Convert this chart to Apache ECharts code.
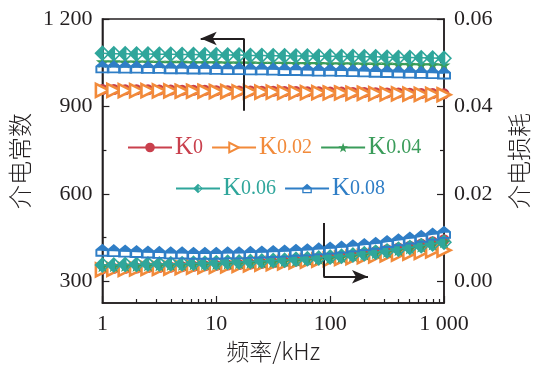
<!DOCTYPE html>
<html><head><meta charset="utf-8">
<script src="https://cdn.jsdelivr.net/npm/echarts@6/dist/echarts.min.js"></script>
<style>html,body{margin:0;padding:0;background:#fff}#c{width:547px;height:368px}</style>
</head><body><div id="c"></div>
<script>
// frequency (kHz)
const freq = [1,1.259,1.585,1.995,2.512,3.162,3.981,5.012,6.310,7.943,10,12.59,15.85,19.95,25.12,31.62,39.81,50.12,63.10,79.43,100,125.9,158.5,199.5,251.2,316.2,398.1,501.2,631.0,794.3,1000];
const names = ['K0','K0.02','K0.04','K0.06','K0.08'];
// dielectric constant
const epsK0   = [958,958,957,957,957,956,956,955,955,955,954,954,953,953,952,952,951,951,950,950,949,949,948,948,947,946,946,945,944,944,943];
const epsK002 = [955,955,954,954,954,953,953,952,952,952,951,951,950,950,949,949,948,948,947,947,946,946,945,945,944,943,943,942,941,941,940];
const epsK004 = [1053,1053,1052,1052,1052,1051,1051,1051,1050,1050,1050,1049,1049,1049,1048,1048,1048,1047,1047,1047,1046,1046,1046,1045,1045,1045,1044,1044,1043,1043,1042];
const epsK006 = [1082,1081,1081,1080,1080,1079,1079,1078,1078,1077,1077,1076,1076,1075,1075,1074,1074,1073,1073,1072,1072,1071,1071,1070,1070,1069,1068,1068,1067,1066,1065];
const epsK008 = [1036,1036,1035,1035,1034,1034,1033,1033,1032,1032,1031,1030,1030,1029,1029,1028,1027,1027,1026,1025,1025,1024,1023,1022,1021,1020,1019,1018,1017,1016,1015];
// dielectric loss
const lossK0   = [0.0028,0.0029,0.0029,0.0030,0.0031,0.0031,0.0032,0.0033,0.0034,0.0035,0.0036,0.0037,0.0038,0.0039,0.0041,0.0042,0.0044,0.0046,0.0048,0.0051,0.0054,0.0057,0.0060,0.0064,0.0068,0.0072,0.0076,0.0080,0.0085,0.0090,0.0095];
const lossK002 = [0.0026,0.0027,0.0027,0.0028,0.0029,0.0029,0.0030,0.0031,0.0032,0.0033,0.0034,0.0035,0.0036,0.0037,0.0039,0.0040,0.0042,0.0044,0.0046,0.0048,0.0050,0.0052,0.0054,0.0056,0.0058,0.0060,0.0062,0.0064,0.0066,0.0069,0.0071];
const lossK004 = [0.0035,0.0035,0.0036,0.0036,0.0037,0.0037,0.0038,0.0038,0.0039,0.0040,0.0040,0.0041,0.0042,0.0043,0.0044,0.0045,0.0047,0.0048,0.0050,0.0052,0.0054,0.0056,0.0059,0.0062,0.0065,0.0068,0.0072,0.0076,0.0080,0.0085,0.0090];
const lossK006 = [0.0037,0.0037,0.0038,0.0038,0.0039,0.0039,0.0040,0.0040,0.0041,0.0041,0.0042,0.0043,0.0044,0.0045,0.0046,0.0047,0.0048,0.0050,0.0051,0.0053,0.0055,0.0057,0.0060,0.0063,0.0066,0.0069,0.0073,0.0077,0.0081,0.0085,0.0089];
const lossK008 = [0.0071,0.0070,0.0069,0.0068,0.0067,0.0066,0.0065,0.0065,0.0064,0.0064,0.0064,0.0065,0.0065,0.0066,0.0067,0.0068,0.0069,0.0071,0.0072,0.0074,0.0076,0.0078,0.0081,0.0084,0.0087,0.0091,0.0095,0.0099,0.0103,0.0108,0.0112];
// ticks
const xMajor = [1,10,100,1000];
const xMinor = [2,3,4,5,6,7,8,9,20,30,40,50,60,70,80,90,200,300,400,500,600,700,800,900];
const yLeftMajor = [300,600,900,1200];
const yLeftMinor = [450,750,1050];
const yRightMajor = [0,0.02,0.04,0.06];
const yRightMinor = [0.01,0.03,0.05];
// annotation arrows (data coordinates)
const arrowLeft = {x: 17.5, yTop: 1133, yBottom: 885, xTip: 7.3};
const arrowRight = {x: 87.5, yTop: 0.0133, yBottom: 0.0010, xTip: 215};

const colors = ['#c9404d','#f28a3a','#3a9c5a','#2fa69b','#2f7ec6'];
const symbols = [
  'circle',
  'path://M0 0 L10 5 L0 10 Z',
  'path://M5 0 L6.18 3.38 L9.76 3.45 L6.90 5.62 L7.94 9.05 L5 7 L2.06 9.05 L3.10 5.62 L0.24 3.45 L3.82 3.38 Z',
  'path://M5 0 L10 5 L5 10 L0 5 Z M5.8 2.2 L5.8 7.8 L8.6 5 Z',
  'path://M5 0 L10 4.5 L10 10 L0 10 L0 4.5 Z M1.4 5.4 L1.4 8.6 L8.6 8.6 L8.6 5.4 Z'
];
const symSizes = [11, [13,13], 13, 16, [14,13]];
const epsAll = [epsK0, epsK002, epsK004, epsK006, epsK008];
const lossAll = [lossK0, lossK002, lossK004, lossK006, lossK008];

const serif = 'Liberation Serif';
const cjk = 'Noto Sans CJK SC';
const ink = '#231f20';

function mkSeries(i, arr, yIdx) {
  const s = {
    name: names[i], type: 'line', xAxisIndex: 0, yAxisIndex: yIdx,
    data: freq.map((f, k) => [f, arr[k]]),
    symbol: symbols[i], symbolSize: symSizes[i], showSymbol: true, showAllSymbol: true,
    lineStyle: {color: colors[i], width: 1.5},
    itemStyle: {color: colors[i], borderColor: colors[i], borderWidth: 0},
    z: 2 + i, animation: false, silent: true
  };
  if (i === 1) {
    s.itemStyle = {color: '#fff', borderColor: colors[i], borderWidth: 2.6};
  }
  return s;
}
const series = [];
for (let i = 0; i < 5; i++) series.push(mkSeries(i, epsAll[i], 0));
for (let i = 0; i < 5; i++) series.push(mkSeries(i, lossAll[i], 1));

const arrowLine = {color: ink, width: 2, type: 'solid'};
series[3].markLine = {
  silent: true, animation: false, symbol: ['none','none'],
  label: {show: false}, lineStyle: arrowLine, emphasis: {disabled: true},
  data: [
    [{coord: [arrowLeft.x, arrowLeft.yBottom], symbol: 'none'}, {coord: [arrowLeft.x, arrowLeft.yTop], symbol: 'none'}],
    [{coord: [arrowLeft.x, arrowLeft.yTop], symbol: 'none'}, {coord: [arrowLeft.xTip, arrowLeft.yTop], symbol: 'arrow', symbolSize: [10, 16]}]
  ]
};
series[9].markLine = {
  silent: true, animation: false, symbol: ['none','none'],
  label: {show: false}, lineStyle: arrowLine, emphasis: {disabled: true},
  data: [
    [{coord: [arrowRight.x, arrowRight.yTop], symbol: 'none'}, {coord: [arrowRight.x, arrowRight.yBottom], symbol: 'none'}],
    [{coord: [arrowRight.x, arrowRight.yBottom], symbol: 'none'}, {coord: [arrowRight.xTip, arrowRight.yBottom], symbol: 'arrow', symbolSize: [10, 16]}]
  ]
};

function legendItems(list) {
  return list.map(n => ({name: n, textStyle: {color: colors[names.indexOf(n)]}}));
}
const legendCommon = {
  orient: 'horizontal', itemWidth: 44, itemHeight: 12, itemGap: 8,
  selectedMode: false,
  formatter: n => '{k|K}{n|' + n.slice(1) + '}',
  textStyle: {fontFamily: serif, padding: [0, 0, 0, -2], rich: {k: {fontFamily: serif, fontSize: 25}, n: {fontFamily: serif, fontSize: 20}}}
};

const fmtNum = v => v >= 1000 ? String(v).replace(/(\d)(\d{3})$/, '$1 $2') : String(v);

const chart = echarts.init(document.getElementById('c'), null, {renderer: 'canvas'});
chart.setOption({
  animation: false,
  backgroundColor: '#fff',
  grid: {left: 101, right: 103, top: 19, bottom: 65, show: true, borderColor: ink, borderWidth: 1.5, containLabel: false},
  legend: [
    Object.assign({}, legendCommon, {data: legendItems(['K0','K0.02','K0.04']), left: 122, top: 130}),
    Object.assign({}, legendCommon, {data: legendItems(['K0.06','K0.08']), left: 170, top: 171})
  ],
  xAxis: [
    {type: 'log', logBase: 10, min: 1, max: 1000, position: 'bottom',
     axisLine: {show: true, onZero: false, lineStyle: {color: ink, width: 1.5}},
     axisTick: {show: true, inside: true, length: 7, lineStyle: {color: ink, width: 1.2}, customValues: xMajor},
     axisLabel: {show: true, customValues: xMajor, formatter: fmtNum, fontFamily: serif, fontSize: 22, color: ink, margin: 10},
     splitLine: {show: false}, minorTick: {show: false},
     name: '频率/kHz', nameLocation: 'middle', nameGap: 37,
     nameTextStyle: {fontFamily: cjk, fontSize: 23, fontWeight: 300, color: ink}},
    {type: 'log', logBase: 10, min: 1, max: 1000, position: 'bottom',
     axisLine: {show: false, onZero: false},
     axisTick: {show: true, inside: true, length: 4, lineStyle: {color: ink, width: 1.2}, customValues: xMinor},
     axisLabel: {show: false}, splitLine: {show: false}}
  ],
  yAxis: [
    {type: 'value', min: 225, max: 1200, position: 'left',
     axisLine: {show: true, onZero: false, lineStyle: {color: ink, width: 1.5}},
     axisTick: {show: true, inside: true, length: 7, lineStyle: {color: ink, width: 1.2}, customValues: yLeftMajor},
     axisLabel: {show: true, customValues: yLeftMajor, formatter: fmtNum, fontFamily: serif, fontSize: 22, color: ink, margin: 10},
     splitLine: {show: false},
     name: '介电常数', nameLocation: 'middle', nameGap: 62,
     nameTextStyle: {fontFamily: cjk, fontSize: 24, fontWeight: 300, color: ink}},
    {type: 'value', min: -0.005, max: 0.06, position: 'right',
     axisLine: {show: true, onZero: false, lineStyle: {color: ink, width: 1.5}},
     axisTick: {show: true, inside: true, length: 7, lineStyle: {color: ink, width: 1.2}, customValues: yRightMajor},
     axisLabel: {show: true, customValues: yRightMajor, formatter: v => v.toFixed(2), fontFamily: serif, fontSize: 22, color: ink, margin: 10},
     splitLine: {show: false},
     name: '介电损耗', nameLocation: 'middle', nameGap: 63,
     nameTextStyle: {fontFamily: cjk, fontSize: 24, fontWeight: 300, color: ink}},
    {type: 'value', min: 225, max: 1200, position: 'left',
     axisLine: {show: false, onZero: false},
     axisTick: {show: true, inside: true, length: 4, lineStyle: {color: ink, width: 1.2}, customValues: yLeftMinor},
     axisLabel: {show: false}, splitLine: {show: false}},
    {type: 'value', min: -0.005, max: 0.06, position: 'right',
     axisLine: {show: false, onZero: false},
     axisTick: {show: true, inside: true, length: 4, lineStyle: {color: ink, width: 1.2}, customValues: yRightMinor},
     axisLabel: {show: false}, splitLine: {show: false}}
  ],
  series: series
});
</script></body></html>
